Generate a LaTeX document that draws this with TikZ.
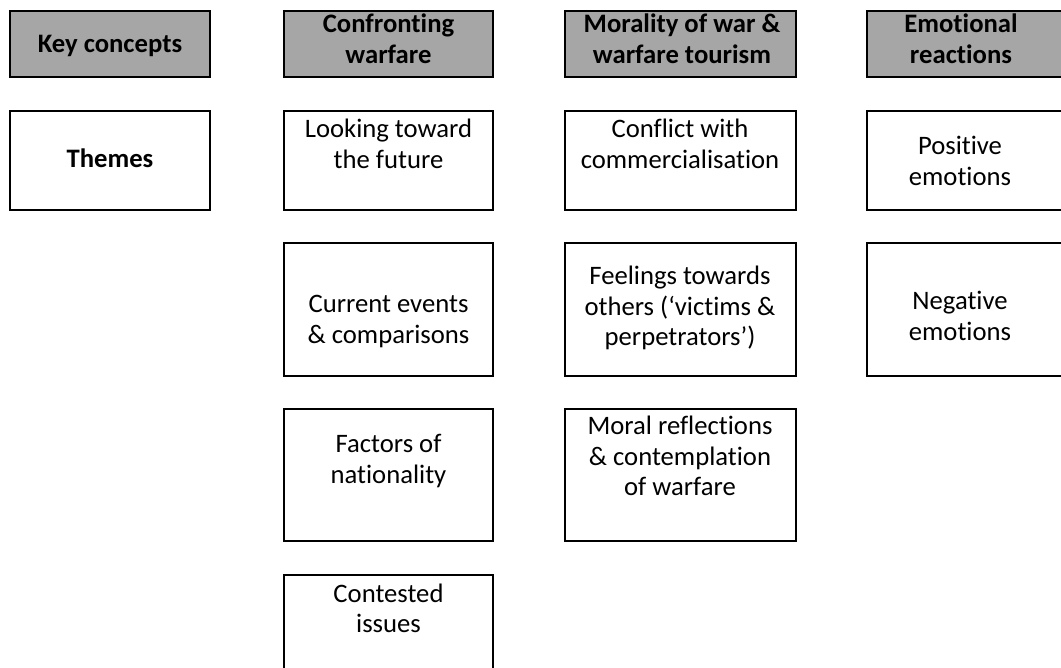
\documentclass[tikz,border=0pt]{standalone}
\usepackage{fontspec}
\setmainfont{Carlito}[RawFeature={-liga;-clig;-calt;-dlig}]
\definecolor{hdrgray}{HTML}{A6A6A6}
\newcommand{\mlines}[1]{\begin{tabular}[t]{@{}c@{}}#1\end{tabular}}
\renewcommand{\arraystretch}{1}
\tikzset{
  box/.style={draw=black, line width=2.2pt, inner sep=0pt, fill=white},
  hdr/.style={box, fill=hdrgray},
  txt/.style={anchor=base, inner sep=0pt, font=\fontsize{26.67}{30.5}\selectfont},
  htxt/.style={txt, font=\fontsize{26.67}{30.5}\selectfont\bfseries},
  colA/.style={minimum width=200pt},
  colB/.style={minimum width=209pt},
  colC/.style={minimum width=231pt},
  colD/.style={minimum width=213pt},
  rowH/.style={minimum height=66pt},
  rowA/.style={minimum height=99pt},
  rowB/.style={minimum height=133pt},
  rowC/.style={minimum height=132pt},
  rowD/.style={minimum height=125pt},
}
\begin{document}
\begin{tikzpicture}[x=1pt, y=-1pt]
\useasboundingbox (0,0) rectangle (1061,668);
\fill[white] (0,0) rectangle (1061,668);
% boxes
\node[hdr, colA, rowH] (kc) at (110,44) {};
\node[box, colA, rowA] (th) at (110,160.5) {};
\node[hdr, colB, rowH] (cw) at (388.5,44) {};
\node[box, colB, rowA] (lf) at (388.5,160.5) {};
\node[box, colB, rowB] (ce) at (388.5,309.5) {};
\node[box, colB, rowC] (fn) at (388.5,475) {};
\node[box, colB, rowD] (ci) at (388.5,637.5) {};
\node[hdr, colC, rowH] (mw) at (680.5,44) {};
\node[box, colC, rowA] (cc) at (680.5,160.5) {};
\node[box, colC, rowB] (ft) at (680.5,309.5) {};
\node[box, colC, rowC] (mr) at (680.5,475) {};
\node[hdr, colD, rowH] (er) at (973.5,44) {};
\node[box, colD, rowA] (pe) at (973.5,160.5) {};
\node[box, colD, rowB] (ne) at (973.5,309.5) {};
% texts
\node[htxt] (kct) at (110,53) {Key concepts};
\node[htxt] (tht) at (110,168) {Themes};
\node[htxt] (cwt) at (388.5,33) {\mlines{Confronting\\warfare}};
\node[htxt] (mwt) at (682,33) {\mlines{Morality of war \&\\warfare tourism}};
\node[htxt] (ert) at (961,33) {\mlines{Emotional\\reactions}};
\node[txt] (lft) at (388.5,138) {\mlines{Looking toward\\the future}};
\node[txt] (cet) at (388.5,313) {\mlines{Current events\\\& comparisons}};
\node[txt] (fnt) at (388.5,453) {\mlines{Factors of\\nationality}};
\node[txt] (cit) at (388.5,602) {\mlines{Contested\\issues}};
\node[txt] (cct) at (680,138) {\mlines{Conflict with\\commercialisation}};
\node[txt] (ftt) at (680,285) {\mlines{Feelings towards\\others (‘victims \&\\perpetrators’)}};
\node[txt] (mrt) at (680,435) {\mlines{Moral reflections\\\& contemplation\\of warfare}};
\node[txt] (pet) at (960,155) {\mlines{Positive\\emotions}};
\node[txt] (net) at (960,310) {\mlines{Negative\\emotions}};
\end{tikzpicture}
\end{document}
